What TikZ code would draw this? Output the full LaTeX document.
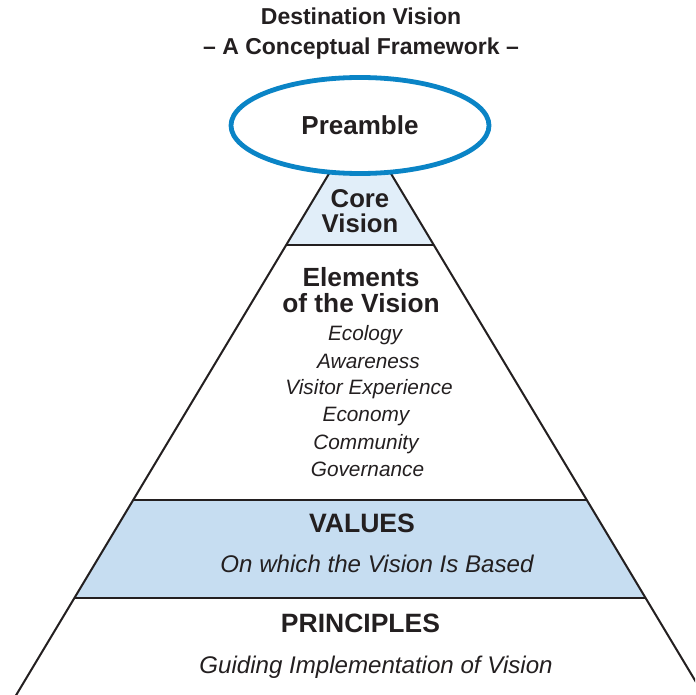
\documentclass[tikz,border=0pt]{standalone}
\usepackage{fontspec}
\setmainfont{Liberation Sans}
\usetikzlibrary{shapes.geometric}
\definecolor{inkc}{HTML}{231F20}
\definecolor{ellblue}{HTML}{0A84C6}
\definecolor{corefill}{HTML}{E1EEF9}
\definecolor{valfill}{HTML}{C6DDF1}
\tikzset{
  edge/.style={draw=inkc,line width=2pt},
  band/.style={draw=inkc,line width=2.8pt},
  txt/.style={inner sep=0pt,anchor=base,text=inkc},
  ttl/.style={txt,font=\fontsize{23}{27}\selectfont\bfseries},
  hd/.style={txt,font=\fontsize{26.3}{30}\selectfont\bfseries},
  itl/.style={txt,font=\fontsize{20.8}{25}\selectfont\itshape},
  sub/.style={txt,font=\fontsize{24.1}{28}\selectfont\itshape},
}
\begin{document}
\begin{tikzpicture}[x=1pt,y=-1pt]
\useasboundingbox (0,0) rectangle (695,695);
\clip (0,0) rectangle (695,695);
% key points
\coordinate (apex) at (360,122);
\coordinate (cl) at (286.2,245); \coordinate (cr) at (433.8,245);
\coordinate (vl) at (133.2,500); \coordinate (vr) at (586.8,500);
\coordinate (pl) at (74.4,598);  \coordinate (pr) at (645.6,598);
\coordinate (bl) at (7.2,710);   \coordinate (br) at (712.8,710);
% fills
\fill[corefill] (apex) -- (cr) -- (cl) -- cycle;
\fill[valfill] (vl) -- (vr) -- (pr) -- (pl) -- cycle;
% pyramid edges
\draw[edge] (bl) -- (apex) -- (br);
% band lines
\draw[band] (cl) -- (cr);
\draw[band] (vl) -- (vr);
\draw[band] (pl) -- (pr);
% preamble ellipse
\node[ellipse,draw=ellblue,line width=4.8pt,fill=white,minimum width=258pt,minimum height=96pt,inner sep=0pt,
  text=inkc,font=\fontsize{26}{30}\selectfont\bfseries] (pre) at (360,125.5) {Preamble};
% title
\node[ttl] (t1) at (361,25) {Destination Vision};
\node[ttl] (t2) at (361,55) {– A Conceptual Framework –};
% core vision
\node[txt,font=\fontsize{25.7}{30}\selectfont\bfseries] (core1) at (360,207) {Core};
\node[txt,font=\fontsize{25.7}{30}\selectfont\bfseries] (core2) at (360,232.5) {Vision};
% elements
\node[hd] (el1) at (361,286) {Elements};
\node[hd] (el2) at (361,312.7) {of the Vision};
\node[itl] (e1) at (365,340) {Ecology};
\node[itl] (e2) at (368.5,368.3) {Awareness};
\node[itl] (e3) at (369,394.3) {Visitor Experience};
\node[itl] (e4) at (366,421.7) {Economy};
\node[itl] (e5) at (366,449) {Community};
\node[itl] (e6) at (367.5,476.7) {Governance};
% values
\node[txt,font=\fontsize{26.6}{30}\selectfont\bfseries] (val) at (362,532.7) {VALUES};
\node[sub] (valsub) at (377,572.7) {On which the Vision Is Based};
% principles
\node[txt,font=\fontsize{26.5}{30}\selectfont\bfseries] (pri) at (360.5,632.7) {PRINCIPLES};
\node[sub] (prisub) at (376,673) {Guiding Implementation of Vision};
\end{tikzpicture}
\end{document}
